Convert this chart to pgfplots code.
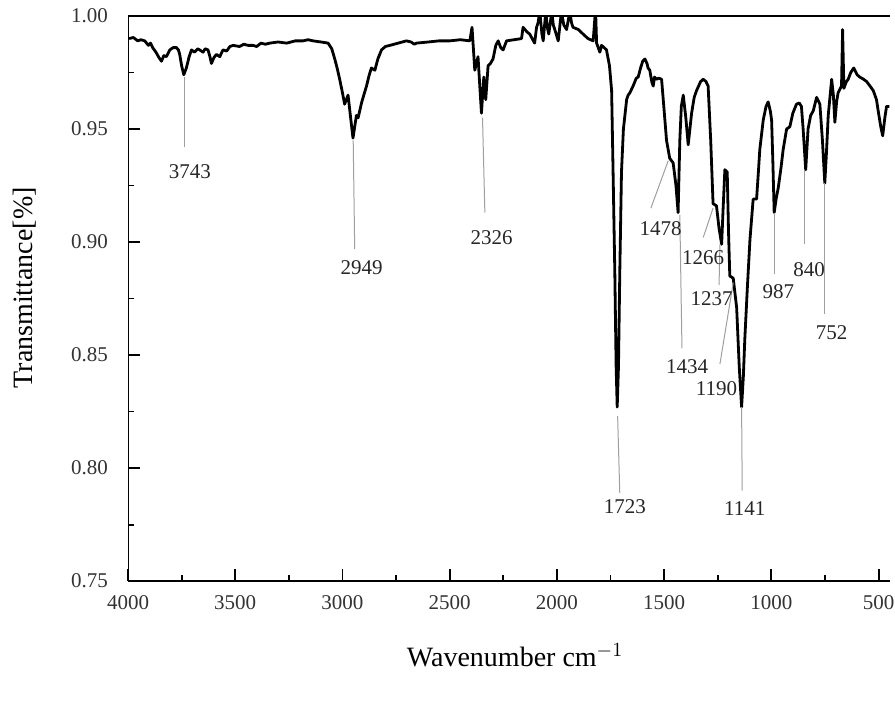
\documentclass[border=0pt]{standalone}
\usepackage{pgfplots}
\pgfplotsset{compat=1.18}
\usepackage{fontspec}
\setmainfont{Liberation Serif}
\pgfplotstableread{
w T
3995 0.990
3975 0.9905
3955 0.989
3940 0.9895
3922 0.989
3905 0.987
3895 0.988
3885 0.986
3870 0.984
3855 0.9815
3844 0.980
3833 0.9825
3821 0.982
3805 0.985
3790 0.986
3774 0.986
3765 0.985
3759 0.983
3750 0.978
3740 0.974
3728 0.977
3715 0.982
3704 0.985
3690 0.984
3675 0.9855
3666 0.985
3650 0.984
3640 0.9855
3627 0.985
3618 0.982
3611 0.979
3600 0.9815
3588 0.983
3572 0.982
3565 0.9835
3557 0.985
3540 0.9845
3525 0.9865
3510 0.987
3480 0.9865
3460 0.9875
3440 0.987
3417 0.987
3400 0.9865
3380 0.988
3360 0.9875
3339 0.988
3300 0.9885
3260 0.988
3220 0.989
3184 0.989
3160 0.9895
3137 0.989
3100 0.9885
3067 0.988
3050 0.9855
3036 0.981
3025 0.977
3013 0.972
3000 0.966
2990 0.961
2974 0.965
2962 0.955
2951 0.946
2943 0.951
2935 0.956
2927 0.955
2910 0.962
2888 0.969
2875 0.974
2865 0.977
2849 0.976
2835 0.981
2818 0.985
2800 0.9865
2779 0.987
2740 0.988
2702 0.989
2680 0.9885
2665 0.9875
2655 0.988
2600 0.9885
2550 0.989
2500 0.989
2450 0.9895
2406 0.989
2396 0.995
2383 0.976
2368 0.982
2352 0.957
2341 0.973
2332 0.963
2321 0.978
2310 0.979
2298 0.981
2285 0.987
2274 0.989
2262 0.986
2251 0.985
2235 0.989
2200 0.9895
2165 0.990
2158 0.995
2140 0.993
2127 0.992
2104 0.988
2095 0.995
2088 0.997
2080 1.002
2070 0.992
2064 0.989
2052 1.002
2045 0.995
2038 0.992
2024 1.002
2017 0.996
2010 0.994
1994 0.989
1979 1.002
1968 0.996
1955 0.994
1940 1.002
1932 0.997
1925 0.995
1900 0.994
1878 0.992
1855 0.990
1831 0.989
1820 1.003
1815 0.988
1800 0.984
1792 0.987
1780 0.986
1769 0.985
1755 0.978
1745 0.967
1738 0.930
1730 0.886
1724 0.845
1719 0.827
1713 0.845
1707 0.886
1699 0.931
1690 0.950
1675 0.963
1668 0.965
1660 0.966
1645 0.969
1630 0.9725
1621 0.973
1610 0.977
1600 0.980
1590 0.981
1580 0.979
1575 0.977
1567 0.976
1558 0.971
1551 0.969
1545 0.973
1536 0.972
1525 0.9725
1512 0.972
1500 0.958
1489 0.945
1474 0.937
1458 0.935
1445 0.925
1435 0.913
1427 0.945
1420 0.960
1411 0.965
1399 0.955
1388 0.943
1372 0.957
1360 0.964
1349 0.967
1330 0.971
1318 0.972
1305 0.971
1295 0.969
1283 0.945
1272 0.917
1256 0.916
1244 0.906
1232 0.899
1225 0.915
1217 0.932
1206 0.931
1200 0.905
1194 0.885
1178 0.884
1162 0.871
1150 0.845
1139 0.827
1131 0.840
1124 0.857
1112 0.880
1100 0.901
1085 0.919
1069 0.919
1060 0.932
1054 0.941
1038 0.954
1025 0.960
1015 0.962
1005 0.958
999 0.954
993 0.935
987 0.913
978 0.919
968 0.924
955 0.933
945 0.941
929 0.950
914 0.951
900 0.957
883 0.961
870 0.9615
860 0.960
852 0.950
840 0.932
829 0.950
817 0.956
805 0.958
789 0.964
774 0.961
762 0.945
751 0.926
743 0.940
735 0.956
725 0.966
719 0.972
711 0.965
704 0.953
696 0.962
689 0.966
673 0.969
668 0.994
662 0.968
650 0.971
642 0.972
630 0.975
616 0.977
600 0.974
588 0.973
570 0.972
556 0.971
540 0.969
525 0.967
510 0.963
502 0.958
490 0.951
481 0.947
471 0.955
463 0.960
450 0.960
}\spectrum
\begin{document}
\begin{tikzpicture}
\begin{axis}[
  scale only axis,
  width=380.9pt, height=282.5pt,
  x dir=reverse,
  xmin=447, xmax=4000,
  ymin=0.75, ymax=1.00,
  xtick={500,1000,...,4000},
  minor x tick num=1,
  ytick={0.75,0.80,0.85,0.90,0.95,1.00},
  minor y tick num=1,
  tick align=inside,
  xtick pos=lower, ytick pos=left,
  major tick length=6pt,
  minor tick length=3pt,
  tick style={black, line width=0.9pt},
  axis line style={draw=none},
  /pgf/number format/assume math mode=true,
  /pgf/number format/1000 sep={},
  yticklabel style={/pgf/number format/fixed, /pgf/number format/fixed zerofill, /pgf/number format/precision=2, xshift=-6.5pt},
  tick label style={font=\fontsize{10.5}{12}\selectfont, text=black!80},
  xticklabel style={yshift=-3.5pt},
  xlabel={Wavenumber cm$^{-1}$},
  ylabel={Transmittance[\%]},
  xlabel style={font=\fontsize{14}{16}\selectfont, at={(axis description cs:0.508,-0.131)}, anchor=center},
  ylabel style={font=\fontsize{14}{16}\selectfont, at={(axis description cs:-0.136,0.519)}, anchor=center},
  clip=true,
]
\addplot[black, line width=1.4pt, line join=round] table[x=w, y=T] {\spectrum};
% axis frame
\draw[black, line width=1.2pt] (rel axis cs:1,0) -- (rel axis cs:0,0) -- (rel axis cs:0,1) -- (rel axis cs:1,1);
\draw[gray!60, line width=0.4pt] (rel axis cs:1,0) -- (rel axis cs:1,1);
% leader lines
\begin{scope}[gray!75, line width=0.5pt]
\draw (axis cs:3736,0.973) -- (axis cs:3736,0.942);
\draw (axis cs:2950,0.945) -- (axis cs:2943,0.897);
\draw (axis cs:2347,0.955) -- (axis cs:2336,0.913);
\draw (axis cs:1481,0.936) -- (axis cs:1562,0.915);
\draw (axis cs:1427,0.912) -- (axis cs:1417,0.853);
\draw (axis cs:1272,0.915) -- (axis cs:1318,0.902);
\draw (axis cs:1240,0.899) -- (axis cs:1244,0.881);
\draw (axis cs:1178,0.882) -- (axis cs:1240,0.846);
\draw (axis cs:1717,0.823) -- (axis cs:1707,0.789);
\draw (axis cs:1139,0.827) -- (axis cs:1136,0.790);
\draw (axis cs:987,0.913) -- (axis cs:987,0.886);
\draw (axis cs:847,0.932) -- (axis cs:847,0.899);
\draw (axis cs:751,0.926) -- (axis cs:751,0.868);
\end{scope}
% peak labels
\begin{scope}[every node/.style={font=\fontsize{10.5}{12}\selectfont, text=black!85, inner sep=0pt}]
\node at (axis cs:3711,0.931) {3743};
\node at (axis cs:2911,0.8885) {2949};
\node at (axis cs:2305,0.902) {2326};
\node at (axis cs:1517,0.906) {1478};
\node at (axis cs:1393,0.845) {1434};
\node at (axis cs:1318,0.893) {1266};
\node at (axis cs:1279,0.875) {1237};
\node at (axis cs:1256,0.835) {1190};
\node at (axis cs:1683,0.783) {1723};
\node at (axis cs:1124,0.782) {1141};
\node at (axis cs:968,0.878) {987};
\node at (axis cs:824,0.888) {840};
\node at (axis cs:719,0.860) {752};
\end{scope}
\end{axis}
\pgfresetboundingbox
\path ([xshift=-64pt,yshift=-61.5pt]current axis.south west) rectangle ([xshift=2.5pt,yshift=8pt]current axis.north east);
\end{tikzpicture}
\end{document}
